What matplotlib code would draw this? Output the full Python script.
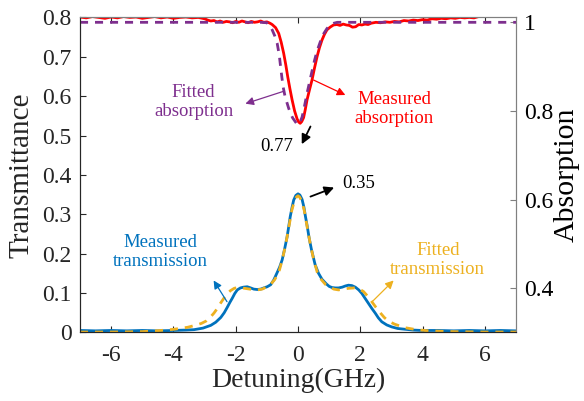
import matplotlib
matplotlib.use("Agg")
import matplotlib.pyplot as plt

plt.rcParams['font.family'] = ['Liberation Serif', 'DejaVu Serif']
plt.rcParams['axes.unicode_minus'] = False

# measured transmission (left axis)
x_meas_tr = [-7.0, -6.5, -6.0, -5.5, -5.0, -4.5, -4.0, -3.6, -3.34, -3.05,
             -2.8, -2.64, -2.48, -2.37, -2.27, -2.19, -2.11, -2.03, -1.95, -1.85,
             -1.75, -1.63, -1.52, -1.42, -1.31, -1.2, -1.1, -0.99, -0.88, -0.78,
             -0.67, -0.59, -0.51, -0.43, -0.35, -0.3, -0.25, -0.19, -0.14, -0.07,
             0.0, 0.06, 0.13, 0.19, 0.24, 0.3, 0.35, 0.43, 0.55, 0.66,
             0.77, 0.9, 1.0, 1.09, 1.2, 1.3, 1.42, 1.52, 1.62, 1.73,
             1.84, 1.95, 2.05, 2.15, 2.26, 2.37, 2.48, 2.58, 2.69, 2.85,
             3.01, 3.2, 3.44, 3.7, 3.97, 4.5, 5.0, 5.5, 6.0, 6.5, 7.0]
y_meas_tr = [0.005, 0.004, 0.005, 0.004, 0.005, 0.004, 0.005, 0.006, 0.007, 0.011,
             0.018, 0.026, 0.038, 0.050, 0.064, 0.076, 0.087, 0.099, 0.108, 0.113,
             0.115, 0.116, 0.113, 0.110, 0.109, 0.110, 0.113, 0.116, 0.121, 0.133,
             0.152, 0.166, 0.184, 0.212, 0.243, 0.268, 0.294, 0.318, 0.336, 0.348,
             0.352, 0.349, 0.338, 0.318, 0.294, 0.268, 0.243, 0.211, 0.172, 0.150,
             0.135, 0.124, 0.117, 0.114, 0.113, 0.113, 0.115, 0.118, 0.120, 0.119,
             0.115, 0.108, 0.099, 0.087, 0.074, 0.061, 0.049, 0.037, 0.027, 0.019,
             0.014, 0.010, 0.008, 0.006, 0.005, 0.005, 0.004, 0.005, 0.004, 0.005, 0.004]

# fitted transmission (left axis)
x_fit_tr = [-7.0, -6.0, -5.0, -4.4, -3.98, -3.55, -3.3, -3.1, -2.95, -2.8,
            -2.7, -2.59, -2.49, -2.38, -2.28, -2.17, -2.05, -1.95, -1.8, -1.63,
            -1.47, -1.31, -1.15, -1.0, -0.88, -0.75, -0.62, -0.5, -0.4, -0.3,
            -0.2, -0.12, -0.05, 0.0, 0.05, 0.12, 0.2, 0.3, 0.4, 0.5,
            0.62, 0.75, 0.88, 1.0, 1.15, 1.3, 1.47, 1.62, 1.8, 1.95,
            2.1, 2.26, 2.37, 2.5, 2.64, 2.77, 2.9, 3.1, 3.44, 3.8,
            4.2, 4.6, 5.0, 6.0, 7.0]
y_fit_tr = [0.001, 0.001, 0.002, 0.005, 0.008, 0.013, 0.018, 0.023, 0.029, 0.040,
            0.049, 0.061, 0.074, 0.087, 0.098, 0.106, 0.112, 0.114, 0.113, 0.111,
            0.109, 0.108, 0.110, 0.116, 0.122, 0.134, 0.152, 0.186, 0.222, 0.265,
            0.310, 0.333, 0.344, 0.347, 0.344, 0.333, 0.310, 0.265, 0.222, 0.186,
            0.152, 0.134, 0.122, 0.116, 0.110, 0.108, 0.110, 0.112, 0.113, 0.111,
            0.104, 0.090, 0.078, 0.064, 0.050, 0.038, 0.029, 0.021, 0.012, 0.007,
            0.004, 0.003, 0.002, 0.001, 0.001]

# measured absorption (right axis)
x_meas_abs = [-7.0, -6.8, -6.6, -6.4, -6.2, -6.0, -5.8, -5.6, -5.4, -5.2,
              -5.0, -4.8, -4.6, -4.4, -4.2, -4.0, -3.8, -3.6, -3.4, -3.2,
              -3.0, -2.9, -2.8, -2.7, -2.6, -2.5, -2.4, -2.3, -2.2, -2.1,
              -2.0, -1.9, -1.8, -1.7, -1.6, -1.5, -1.4, -1.3, -1.2, -1.1,
              -1.0, -0.9, -0.83, -0.72, -0.62, -0.54, -0.46, -0.39, -0.33, -0.26,
              -0.19, -0.11, -0.03, 0.02, 0.07, 0.12, 0.18, 0.23, 0.29, 0.37,
              0.45, 0.53, 0.61, 0.69, 0.77, 0.85, 0.93, 1.03, 1.14, 1.25,
              1.35, 1.45, 1.55, 1.65, 1.75, 1.85, 1.95, 2.05, 2.15, 2.25,
              2.35, 2.5, 2.65, 2.8, 2.95, 3.1, 3.25, 3.4, 3.55, 3.7,
              3.85, 4.0, 4.15, 4.3, 4.45, 4.6, 4.75, 4.9, 5.05, 5.2,
              5.35, 5.5, 5.65, 5.8, 6.0, 6.2, 6.4, 6.6, 6.8, 7.0]
y_meas_abs = [1.012, 1.010, 1.013, 1.011, 1.009, 1.012, 1.010, 1.013, 1.011, 1.012,
              1.009, 1.011, 1.013, 1.010, 1.012, 1.009, 1.011, 1.012, 1.010, 1.011,
              1.008, 1.005, 1.003, 1.004, 1.001, 1.003, 1.000, 1.002, 1.001, 0.999,
              1.002, 1.000, 1.003, 1.001, 0.999, 1.002, 1.000, 1.001, 1.003, 1.000,
              1.001, 0.998, 0.995, 0.988, 0.975, 0.955, 0.930, 0.903, 0.877, 0.850,
              0.825, 0.800, 0.782, 0.775, 0.772, 0.776, 0.785, 0.802, 0.825, 0.848,
              0.870, 0.897, 0.922, 0.943, 0.960, 0.973, 0.983, 0.989, 0.994, 0.995,
              0.993, 0.996, 0.994, 0.993, 0.989, 0.990, 0.995, 0.994, 0.996, 0.995,
              0.998, 1.000, 0.999, 1.001, 1.000, 1.002, 1.001, 1.004, 1.003, 1.005,
              1.004, 1.006, 1.005, 1.008, 1.007, 1.009, 1.008, 1.010, 1.009, 1.011,
              1.010, 1.011, 1.010, 1.013, 1.014, 1.013, 1.015, 1.014, 1.015, 1.014]

# fitted absorption (right axis)
x_fit_abs = [-7.0, -6.0, -5.0, -4.0, -3.0, -2.0, -1.5, -1.2, -1.0, -0.9,
             -0.83, -0.75, -0.67, -0.6, -0.56, -0.52, -0.48, -0.42, -0.37, -0.3,
             -0.24, -0.17, -0.1, -0.05, 0.0, 0.05, 0.13, 0.2, 0.29, 0.37,
             0.45, 0.53, 0.61, 0.72, 0.83, 0.93, 1.04, 1.15, 1.26, 1.5,
             2.0, 3.0, 4.0, 5.0, 6.0, 7.0]
y_fit_abs = [1.0, 1.0, 1.0, 1.0, 1.0, 1.0, 1.0, 1.0, 0.999, 0.993,
             0.983, 0.970, 0.953, 0.925, 0.900, 0.877, 0.855, 0.834, 0.822, 0.806,
             0.794, 0.784, 0.777, 0.772, 0.769, 0.772, 0.786, 0.808, 0.840, 0.865,
             0.890, 0.914, 0.935, 0.957, 0.975, 0.986, 0.994, 0.998, 1.0, 1.0,
             1.0, 1.0, 1.0, 1.0, 1.0, 1.0]

x_ticks = [-6, -4, -2, 0, 2, 4, 6]
left_ticks = [0, 0.1, 0.2, 0.3, 0.4, 0.5, 0.6, 0.7, 0.8]
left_labels = ['0', '0.1', '0.2', '0.3', '0.4', '0.5', '0.6', '0.7', '0.8']
right_ticks = [0.4, 0.6, 0.8, 1.0]
right_labels = ['0.4', '0.6', '0.8', '1']

blue = '#0072BD'
orange = '#EDB120'
purple = '#7E2F8E'
red = '#FF0000'
dark = '#262626'
grey = '#808080'

fig = plt.figure(figsize=(5.84, 4.01), dpi=100)
ax = fig.add_axes([0.137, 0.171, 0.7466, 0.7855])
ax2 = ax.twinx()

ax.plot(x_meas_tr, y_meas_tr, color=blue, lw=2.0)
ax.plot(x_fit_tr, y_fit_tr, color=orange, lw=2.0, dashes=(2.9, 2.5))
ax2.plot(x_meas_abs, y_meas_abs, color=red, lw=2.0)
ax2.plot(x_fit_abs, y_fit_abs, color=purple, lw=2.0, dashes=(2.9, 2.5))

ax.set_xlim(-7, 7)
ax.set_ylim(0, 0.8)
ax2.set_ylim(0.3, 1.011)
ax.set_xticks(x_ticks)
ax.set_xticklabels([str(t) for t in x_ticks])
ax.set_yticks(left_ticks)
ax.set_yticklabels(left_labels)
ax2.set_yticks(right_ticks)
ax2.set_yticklabels(right_labels)

ax.tick_params(axis='x', direction='in', top=True, length=4, labelsize=17,
               colors=dark, pad=9)
ax.tick_params(axis='y', direction='in', length=4, labelsize=17, colors=dark,
               right=False, pad=6)
ax2.tick_params(axis='y', direction='in', length=4, labelsize=17, color=grey,
                labelcolor='black', pad=6)
for a in (ax, ax2):
    a.spines['left'].set_color(dark)
    a.spines['bottom'].set_color(dark)
    a.spines['top'].set_color(grey)
    a.spines['right'].set_color(grey)

ax.set_xlabel('Detuning(GHz)', fontsize=20, color=dark)
ax.set_ylabel('Transmittance', fontsize=21, color=dark)
ax2.set_ylabel('Absorption', fontsize=21.5, color='black')
ax.yaxis.set_label_coords(-0.105, 0.5)
ax2.yaxis.set_label_coords(1.087, 0.5)
ax.xaxis.set_label_coords(0.5, -0.113)

fs = 13.5


def arrow(start, end, color, lw=0.9, scale=12):
    ax.annotate('', xy=end, xytext=start,
                arrowprops=dict(arrowstyle='-|>', color=color, lw=lw,
                                mutation_scale=scale, shrinkA=0, shrinkB=0))


# text labels
ax.text(-3.35, 0.586, 'Fitted\nabsorption', color=purple, fontsize=fs,
        ha='center', va='center', linespacing=1.15)
ax.text(3.09, 0.568, 'Measured\nabsorption', color=red, fontsize=fs,
        ha='center', va='center', linespacing=1.15)
ax.text(-4.42, 0.205, 'Measured\ntransmission', color=blue, fontsize=fs,
        ha='center', va='center', linespacing=1.15)
ax.text(4.49, 0.184, 'Fitted\ntransmission', color=orange, fontsize=fs,
        ha='center', va='center', linespacing=1.15)
ax.text(-0.67, 0.472, '0.77', color='black', fontsize=fs, ha='center', va='center')
ax.text(1.41, 0.379, '0.35', color='black', fontsize=fs, ha='left', va='center')

# arrows
arrow((-0.48, 0.612), (-1.69, 0.581), purple)
arrow((0.50, 0.641), (1.52, 0.603), red)
arrow((-2.28, 0.078), (-2.71, 0.132), blue)
arrow((2.38, 0.078), (3.07, 0.132), orange)
arrow((0.40, 0.523), (0.12, 0.478), 'black', lw=1.3, scale=14)
arrow((0.40, 0.345), (1.16, 0.368), 'black', lw=1.3, scale=14)

fig.savefig('out.png', dpi=100)
